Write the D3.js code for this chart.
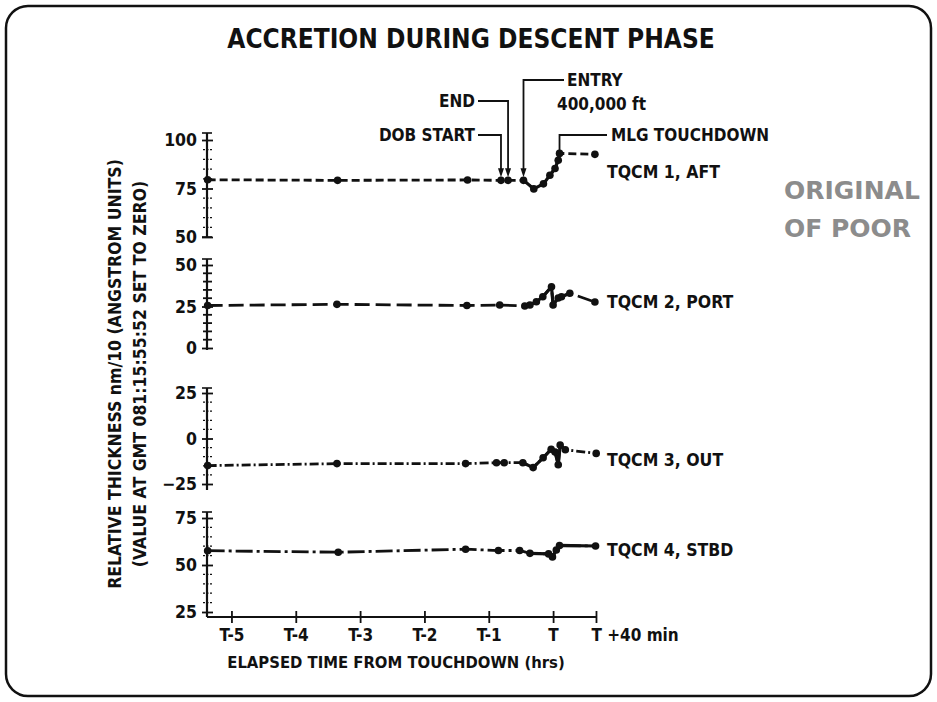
<!DOCTYPE html>
<html>
<head>
<meta charset="utf-8">
<script src="https://cdn.jsdelivr.net/npm/d3@7/dist/d3.min.js"></script>
<style>
  html, body { margin: 0; padding: 0; background: #ffffff; }
  svg { display: block; }
  text { font-family: 'DejaVu Sans Condensed', 'DejaVu Sans', sans-serif; font-stretch: condensed; font-weight: bold; fill: #111; }
</style>
</head>
<body>
<svg id="chart" width="937" height="702"></svg>
<script>
// ---------------- DATA ----------------
const title = "ACCRETION DURING DESCENT PHASE";
const seriesNames = ["TQCM 1, AFT", "TQCM 2, PORT", "TQCM 3, OUT", "TQCM 4, STBD"];

// time in hours relative to touchdown
const aftTime  = [-5.37, -3.35, -1.33, -0.81, -0.70, -0.46, -0.30, -0.15, -0.05, 0.03, 0.08, 0.10, 0.65];
const aftValue = [79.5, 79.2, 79.4, 79.2, 79.2, 79.2, 74.8, 77.4, 81.8, 85.3, 89.6, 93.1, 92.6];

const portTime  = [-5.37, -3.36, -1.34, -0.83, -0.44, -0.36, -0.26, -0.16, -0.025, 0.0, 0.08, 0.13, 0.26, 0.65];
const portValue = [25.6, 26.3, 25.6, 25.9, 25.3, 25.9, 27.9, 30.9, 36.9, 25.9, 30.1, 30.9, 33.0, 27.7];

const outTime  = [-5.37, -3.36, -1.36, -0.88, -0.76, -0.47, -0.31, -0.155, -0.03, 0.03, 0.08, 0.11, 0.19, 0.67];
const outValue = [-14.9, -13.8, -13.8, -13.3, -13.3, -13.3, -16.0, -10.6, -5.9, -7.4, -14.4, -3.6, -6.2, -8.2];

const stbdTime  = [-5.37, -3.34, -1.36, -0.85, -0.52, -0.36, -0.07, -0.01, 0.05, 0.10, 0.66];
const stbdValue = [57.6, 56.8, 58.4, 57.7, 57.7, 56.2, 55.9, 54.3, 58.0, 60.4, 60.1];

const xTickValues = [-5, -4, -3, -2, -1, 0, 0.6667];
const xTickLabels = ["T-5", "T-4", "T-3", "T-2", "T-1", "T", "T +40 min"];

const aftTicks  = [100, 75, 50];
const portTicks = [50, 25, 0];
const outTicks  = [25, 0, -25];
const stbdTicks = [75, 50, 25];

// event annotations (index into AFT series)
const events = [
  { label: "DOB START", idx: 3 },
  { label: "END", idx: 4 },
  { label: "ENTRY", sub: "400,000 ft", idx: 5 },
  { label: "MLG TOUCHDOWN", idx: 11 }
];

// ---------------- LAYOUT / STYLE ----------------
const svg = d3.select("#chart");
const INK = "#111";
const axisX = 207;

const x = d3.scaleLinear().domain([-5.38, 0.667]).range([axisX, 596]);

const panels = [
  { name: seriesNames[0], t: aftTime,  v: aftValue,  ticks: aftTicks,  dom: [50, 100], rng: [237, 140], lineEnds: [237, 133], dash: "8,4",       solid: [5, 11], labelY: 172 },
  { name: seriesNames[1], t: portTime, v: portValue, ticks: portTicks, dom: [0, 50],   rng: [348, 265], lineEnds: [350, 259], dash: "15,6",      solid: [4, 12], labelY: 302 },
  { name: seriesNames[2], t: outTime,  v: outValue,  ticks: outTicks,  dom: [-25, 25], rng: [484, 393], lineEnds: [490, 388], dash: "9,3,2,3",   solid: [5, 12], labelY: 460 },
  { name: seriesNames[3], t: stbdTime, v: stbdValue, ticks: stbdTicks, dom: [25, 75],  rng: [612, 518], lineEnds: [617, 512], dash: "17,4,3,4",  solid: [5, 10], labelY: 550 }
];

// border
svg.append("rect").attr("x", 6).attr("y", 6).attr("width", 925).attr("height", 690)
  .attr("rx", 22).attr("ry", 22).attr("fill", "none").attr("stroke", INK).attr("stroke-width", 2.5);

// title
svg.append("text").attr("x", 471).attr("y", 48).attr("text-anchor", "middle")
  .style("font-size", "26px").text(title);

// y-axis label
const yl = svg.append("g").attr("transform", "translate(115,374) rotate(-90)");
yl.append("text").attr("text-anchor", "middle").attr("dy", "0.35em").style("font-size", "17.5px")
  .text("RELATIVE THICKNESS nm/10 (ANGSTROM UNITS)");
yl.append("text").attr("y", 25).attr("text-anchor", "middle").attr("dy", "0.35em").style("font-size", "17.5px")
  .text("(VALUE AT GMT 081:15:55:52 SET TO ZERO)");

// panels
panels.forEach((p, pi) => {
  const y = d3.scaleLinear().domain(p.dom).range(p.rng);
  const g = svg.append("g");

  // axis line
  g.append("line").attr("x1", axisX).attr("x2", axisX).attr("y1", p.lineEnds[0]).attr("y2", p.lineEnds[1])
    .attr("stroke", INK).attr("stroke-width", 2.2);
  // top cap
  g.append("line").attr("x1", axisX - 5).attr("x2", axisX + 5).attr("y1", p.lineEnds[1]).attr("y2", p.lineEnds[1])
    .attr("stroke", INK).attr("stroke-width", 1.6);
  if (pi === 0) {
    g.append("line").attr("x1", axisX - 5).attr("x2", axisX + 5).attr("y1", p.lineEnds[0]).attr("y2", p.lineEnds[0])
      .attr("stroke", INK).attr("stroke-width", 1.6);
  }

  // minor ticks every 5
  const minor = d3.range(p.dom[0], p.dom[1] + 0.1, 5).filter(v => p.ticks.indexOf(v) < 0);
  g.selectAll(".minor").data(minor).join("line")
    .attr("x1", axisX - 4).attr("x2", axisX + 5)
    .attr("y1", d => y(d)).attr("y2", d => y(d))
    .attr("stroke", INK).attr("stroke-width", pi === 1 ? 1.8 : 1.2)
    .attr("stroke-dasharray", pi === 1 ? null : "2,1.5");

  // major ticks + labels via d3 axis
  const ax = d3.axisLeft(y).tickValues(p.ticks).tickSize(0).tickPadding(10).tickFormat(d3.format("d"));
  const axg = svg.append("g").attr("transform", `translate(${axisX},0)`).call(ax);
  axg.select(".domain").remove();
  axg.selectAll("text").style("font-size", "17.5px").attr("font-family", null).attr("fill", INK);
  axg.selectAll(".tick").append("line").attr("x1", -5).attr("x2", 6).attr("stroke", INK).attr("stroke-width", 1.8);

  // data line
  const pts = p.t.map((t, i) => [x(t), y(p.v[i])]);
  const line = d3.line();
  g.append("path").attr("d", line(pts)).attr("fill", "none").attr("stroke", INK)
    .attr("stroke-width", 2.8).attr("stroke-dasharray", p.dash);
  g.append("path").attr("d", line(pts.slice(p.solid[0], p.solid[1] + 1))).attr("fill", "none").attr("stroke", INK)
    .attr("stroke-width", 3.2).attr("stroke-linejoin", "round");
  g.selectAll(".pt").data(pts).join("circle")
    .attr("cx", d => d[0]).attr("cy", d => d[1]).attr("r", 3.8).attr("fill", INK);

  // series label
  svg.append("text").attr("x", 607).attr("y", p.labelY).attr("dy", "0.35em")
    .style("font-size", "17.5px").text(p.name);

  p.y = y;
});

// x axis
const xAxisY = 617;
const xa = d3.axisBottom(x).tickValues(xTickValues).tickSize(0).tickPadding(12)
  .tickFormat((d, i) => xTickLabels[i]);
const xg = svg.append("g").attr("transform", `translate(0,${xAxisY})`).call(xa);
xg.select(".domain").remove();
xg.append("line").attr("x1", axisX).attr("x2", 596).attr("stroke", INK).attr("stroke-width", 2.2);
xg.selectAll(".tick").append("line").attr("y1", -6).attr("y2", 6).attr("stroke", INK).attr("stroke-width", 1.8);
xg.selectAll("text").style("font-size", "17px").attr("font-family", null).attr("fill", INK);
xg.selectAll(".tick").filter((d, i) => i === xTickValues.length - 1).select("text")
  .attr("text-anchor", "start").attr("dx", "-5");

svg.append("text").attr("x", 396).attr("y", 662).attr("text-anchor", "middle").attr("dy", "0.35em")
  .style("font-size", "16.5px").text("ELAPSED TIME FROM TOUCHDOWN (hrs)");

// annotations
const P1 = panels[0];
const evPt = e => [x(aftTime[e.idx]), P1.y(aftValue[e.idx])];
function arrowHead(px, py) {
  svg.append("path").attr("d", `M${px - 3},${py - 12} L${px + 3},${py - 12} L${px},${py - 3} Z`).attr("fill", INK);
}
const ann = svg.append("g").attr("fill", "none").attr("stroke", INK).attr("stroke-width", 1.8);
// DOB START
{
  const [px, py] = evPt(events[0]);
  ann.append("path").attr("d", `M478,135 H${px} V${py - 8}`);
  arrowHead(px, py);
  svg.append("text").attr("x", 475).attr("y", 135).attr("dy", "0.35em").attr("text-anchor", "end")
    .style("font-size", "17px").text(events[0].label);
}
// END
{
  const [px, py] = evPt(events[1]);
  ann.append("path").attr("d", `M478,101 H${px} V${py - 8}`);
  arrowHead(px, py);
  svg.append("text").attr("x", 475).attr("y", 101).attr("dy", "0.35em").attr("text-anchor", "end")
    .style("font-size", "17px").text(events[1].label);
}
// ENTRY
{
  const [px, py] = evPt(events[2]);
  ann.append("path").attr("d", `M564,80 H${px} V${py - 8}`);
  arrowHead(px, py);
  svg.append("text").attr("x", 567).attr("y", 80).attr("dy", "0.35em")
    .style("font-size", "17px").text(events[2].label);
  svg.append("text").attr("x", 557).attr("y", 104).attr("dy", "0.35em")
    .style("font-size", "17px").text(events[2].sub);
}
// MLG TOUCHDOWN
{
  const [px, py] = evPt(events[3]);
  ann.append("path").attr("d", `M${px},${py} V135 H607`);
  svg.append("text").attr("x", 611).attr("y", 135).attr("dy", "0.35em")
    .style("font-size", "17px").text(events[3].label);
}

// stamp text
svg.append("text").attr("x", 784).attr("y", 199).style("font-family", "'DejaVu Sans', sans-serif")
  .style("font-stretch", "normal").style("font-size", "25px").style("fill", "#8c8c8c").text("ORIGINAL");
svg.append("text").attr("x", 784).attr("y", 237).style("font-family", "'DejaVu Sans', sans-serif")
  .style("font-stretch", "normal").style("font-size", "25px").style("fill", "#8c8c8c").text("OF POOR");
</script>
</body>
</html>
